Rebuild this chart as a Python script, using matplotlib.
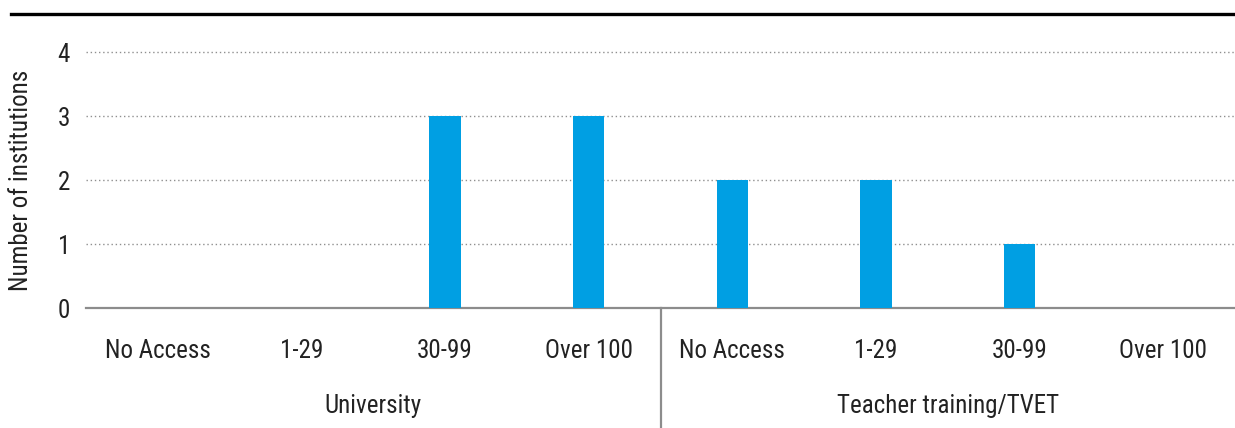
import matplotlib
matplotlib.use("Agg")
import matplotlib.pyplot as plt
from matplotlib import font_manager
from matplotlib.lines import Line2D
from matplotlib.transforms import blended_transform_factory

# Data
groups = ["University", "Teacher training/TVET"]
categories = ["No Access", "1-29", "30-99", "Over 100"]
university = [0, 0, 3, 3]
teacher_tvet = [2, 2, 1, 0]
y_ticks = [0, 1, 2, 3, 4]

# Font: prefer a narrow / condensed sans if one is installed
entries = font_manager.fontManager.ttflist
narrow = None
for pref in ["Liberation Sans Narrow", "Roboto Condensed", "Open Sans Condensed",
             "DejaVu Sans Condensed"]:
    if any(f.name == pref for f in entries):
        narrow = (pref, "normal")
        break
if narrow is None:
    for f in entries:
        if f.name in ("DejaVu Sans", "Open Sans", "Roboto", "Noto Sans") and \
                str(f.stretch) in ("condensed", "semi-condensed", "75", "87.5"):
            narrow = (f.name, "condensed")
            break
if narrow is None:
    narrow = ("Liberation Sans", "normal")
family, stretch = narrow
plt.rcParams["font.family"] = [family, "DejaVu Sans"]
plt.rcParams["font.stretch"] = stretch

W, H = 1235, 428
fig = plt.figure(figsize=(W / 100, H / 100), dpi=100)

text_color = "#222222"
bar_color = "#009FE3"
fs = 18 if stretch == "condensed" or family != "Liberation Sans" else 16.5

ymax = 4.1
left_px, right_px = 86, 1235
zero_px = 308
unit_px = 64
ax = fig.add_axes([left_px / W, (H - zero_px) / H,
                   (right_px - left_px) / W, ymax * unit_px / H])

values = university + teacher_tvet
labels = categories + categories
x = list(range(len(values)))
ax.bar(x, values, width=0.22, color=bar_color, zorder=3)

ax.set_xlim(-0.5, len(values) - 0.5)
ax.set_ylim(0, ymax)
ax.set_yticks(y_ticks)
ax.set_yticklabels([str(t) for t in y_ticks])
ax.tick_params(axis="y", length=0, pad=11.5, labelsize=fs, labelcolor=text_color)
ax.set_xticks([])

for s in ["top", "right", "left"]:
    ax.spines[s].set_visible(False)
ax.spines["bottom"].set_color("#8c8c8c")
ax.spines["bottom"].set_linewidth(1.6)

ax.yaxis.grid(True, linestyle=(0, (1, 2)), color="#8f8f8f", linewidth=1.0, zorder=0)
ax.set_axisbelow(True)

# Category labels and group labels below the axis
trans = blended_transform_factory(ax.transData, fig.transFigure)
for xi, lab in zip(x, labels):
    ax.text(xi, 1 - 358 / H, lab, transform=trans, ha="center", va="baseline",
            fontsize=fs, color=text_color)
n = len(categories)
for gi, g in enumerate(groups):
    cx = gi * n + (n - 1) / 2
    ax.text(cx, 1 - 413 / H, g, transform=trans, ha="center", va="baseline",
            fontsize=fs, color=text_color)

# Separator between groups
sep_x = n - 0.5
ax.add_line(Line2D([sep_x, sep_x], [1 - zero_px / H, 0], transform=trans,
                   color="#8c8c8c", linewidth=1.6, clip_on=False))

# Y-axis title
fig.text(21 / W, 1 - 180 / H, "Number of institutions", rotation=90,
         ha="center", va="center", fontsize=fs, color=text_color)

# Heavy rule across the top
fig.add_artist(Line2D([11 / W, 1.0], [1 - 14 / H, 1 - 14 / H],
                      transform=fig.transFigure, color="black", linewidth=2.4))

fig.savefig("out.png", dpi=100)
